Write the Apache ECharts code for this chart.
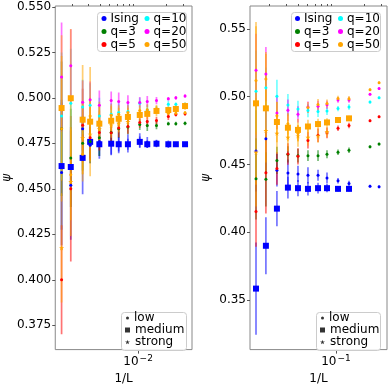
<!DOCTYPE html>
<html lang="en">
<head>
<meta charset="UTF-8">
<title>psi vs 1/L</title>
<style>
  html, body { margin: 0; padding: 0; background: #fff; }
  #chart { width: 390px; height: 390px; }
</style>
</head>
<body>
<div id="chart"></div>
<script src="https://cdn.jsdelivr.net/npm/echarts@6/dist/echarts.min.js"></script>
<script>
// ---- left panel: sizes L, plotted against 1/L ----
var sizesLeft = [640, 512, 384, 320, 256, 192, 160, 128, 96, 80, 64, 48, 40, 32];
var xLeft = sizesLeft.map(function (l) { return 1 / l; });

var isingLowL = [0.459, 0.452, 0.483, 0.474, 0.476, 0.4755, 0.4755, 0.475, 0.4765, 0.4755, 0.475, 0.4745, 0.4745, 0.4745];
var isingLowErrL = [0.04, 0.03, 0.012, 0.01, 0.008, 0.007, 0.006, 0.005, 0.004, 0.003, 0.002, 0.002, 0.001, 0.001];
var isingMedL = [0.4625, 0.462, 0.467, 0.4758, 0.4745, 0.4748, 0.4745, 0.4745, 0.4758, 0.4745, 0.4748, 0.4745, 0.4745, 0.4745];
var isingMedErrL = [0.035, 0.022, 0.02, 0.009, 0.008, 0.006, 0.004, 0.003, 0.003, 0.002, 0.002, 0.001, 0.001, 0.001];
var q3LowL = [0.483, 0.467, 0.475, 0.476, 0.478, 0.481, 0.483, 0.484, 0.4853, 0.4848, 0.4848, 0.4858, 0.4858, 0.486];
var q3LowErrL = [0.037, 0.027, 0.015, 0.012, 0.01, 0.007, 0.005, 0.004, 0.003, 0.003, 0.002, 0.001, 0.001, 0.001];
var q5LowL = [0.400, 0.450, 0.485, 0.478, 0.481, 0.4808, 0.4834, 0.4843, 0.4865, 0.487, 0.4875, 0.4898, 0.4908, 0.4912];
var q5LowErrL = [0.03, 0.04, 0.02, 0.012, 0.01, 0.007, 0.005, 0.004, 0.003, 0.003, 0.002, 0.002, 0.001, 0.001];
var q10LowL = [0.49, 0.497, 0.495, 0.496, 0.49, 0.491, 0.492, 0.4925, 0.497, 0.4932, 0.4935, 0.4965, 0.4965, 0.4964];
var q10LowErrL = [0.035, 0.03, 0.015, 0.012, 0.01, 0.006, 0.005, 0.004, 0.003, 0.003, 0.002, 0.002, 0.001, 0.001];
var q20LowL = [0.5114, 0.5177, 0.4976, 0.499, 0.496, 0.4985, 0.498, 0.4975, 0.4975, 0.498, 0.4985, 0.4995, 0.5, 0.501];
var q20LowErrL = [0.03, 0.02, 0.012, 0.01, 0.008, 0.005, 0.005, 0.004, 0.003, 0.003, 0.002, 0.001, 0.001, 0.001];
var q50LowL = [0.483, 0.4577, 0.469, 0.49, 0.487, 0.4905, 0.491, 0.492, 0.493, 0.4935, 0.494, 0.4915, 0.4915, 0.4918];
var q50LowErrL = [0.04, 0.025, 0.015, 0.01, 0.008, 0.006, 0.005, 0.004, 0.003, 0.003, 0.002, 0.002, 0.001, 0.001];
var q50MedL = [0.4944, 0.4998, 0.488, 0.4869, 0.4858, 0.4874, 0.4885, 0.4895, 0.4906, 0.4912, 0.4928, 0.4933, 0.4939, 0.4955];
var q50MedErrL = [0.04, 0.038, 0.03, 0.03, 0.012, 0.008, 0.006, 0.005, 0.004, 0.003, 0.003, 0.002, 0.002, 0.002];
var q50StrongL = [0.4175, 0.454, 0.478, 0.48, 0.483, 0.485, 0.486, 0.487];
var q50StrongErrL = [0.03, 0.03, 0.02, 0.015, 0.01, 0.007, 0.005, 0.004];

// ---- right panel ----
var xRight = [0.0144, 0.0183, 0.0239, 0.0312, 0.0398, 0.0507, 0.0647, 0.0804, 0.105, 0.137, 0.228, 0.284];

var isingLowR = [0.460, 0.469, 0.4457, 0.4437, 0.443, 0.442, 0.442, 0.440, 0.438, 0.436, 0.434, 0.4335];
var isingLowErrR = [0.03, 0.025, 0.012, 0.01, 0.006, 0.006, 0.004, 0.004, 0.002, 0.002, 0.001, 0.001];
var isingMedR = [0.3584, 0.390, 0.4174, 0.4329, 0.4325, 0.432, 0.4325, 0.4325, 0.432, 0.432];
var isingMedErrR = [0.034, 0.021, 0.013, 0.008, 0.006, 0.005, 0.004, 0.003, 0.002, 0.002];
var q3LowR = [0.4394, 0.439, 0.453, 0.4575, 0.4565, 0.4565, 0.4565, 0.4575, 0.459, 0.4605, 0.463, 0.465];
var q3LowErrR = [0.03, 0.02, 0.01, 0.006, 0.005, 0.004, 0.004, 0.003, 0.002, 0.002, 0.001, 0.001];
var q5LowR = [0.4152, 0.4438, 0.447, 0.4577, 0.456, 0.4677, 0.4716, 0.4733, 0.4767, 0.4787, 0.4823, 0.4852];
var q5LowErrR = [0.026, 0.03, 0.012, 0.008, 0.006, 0.006, 0.005, 0.004, 0.002, 0.002, 0.001, 0.001];
var q10LowR = [0.504, 0.5065, 0.5004, 0.4939, 0.491, 0.4898, 0.489, 0.4895, 0.4912, 0.4924, 0.496, 0.4992];
var q10LowErrR = [0.03, 0.015, 0.012, 0.008, 0.006, 0.005, 0.004, 0.003, 0.002, 0.002, 0.001, 0.001];
var q20LowR = [0.5195, 0.5167, 0.488, 0.49, 0.487, 0.4924, 0.493, 0.494, 0.4976, 0.4975, 0.5018, 0.506];
var q20LowErrR = [0.027, 0.02, 0.012, 0.008, 0.006, 0.004, 0.004, 0.003, 0.002, 0.002, 0.001, 0.001];
var q50LowR = [0.512, 0.513, 0.486, 0.48, 0.473, 0.492, 0.4943, 0.495, 0.4987, 0.4985, 0.5052, 0.5103];
var q50LowErrR = [0.04, 0.02, 0.01, 0.008, 0.006, 0.004, 0.004, 0.003, 0.002, 0.002, 0.001, 0.001];
var q50MedR = [0.4951, 0.4914, 0.4813, 0.4771, 0.4755, 0.478, 0.4798, 0.481, 0.4828, 0.484];
var q50MedErrR = [0.06, 0.04, 0.015, 0.01, 0.008, 0.005, 0.004, 0.003, 0.002, 0.002];
var q50StrongR = [0.459, 0.475, 0.473, 0.470, 0.471, 0.470, 0.471, 0.474];
var q50StrongErrR = [0.04, 0.03, 0.015, 0.01, 0.008, 0.006, 0.005, 0.004];

// ---- ticks ----
var yTicksLeft = [0.375, 0.400, 0.425, 0.450, 0.475, 0.500, 0.525, 0.550];
var yTicksRight = [0.35, 0.40, 0.45, 0.50, 0.55];
var xMajorLeft = [0.01];
var xMinorLeft = [0.002, 0.003, 0.004, 0.005, 0.006, 0.007, 0.008, 0.009, 0.02, 0.03];
var xMajorRight = [0.1];
var xMinorRight = [0.02, 0.03, 0.04, 0.05, 0.06, 0.07, 0.08, 0.09, 0.2, 0.3];

var qNames = ['Ising', 'q=3', 'q=5', 'q=10', 'q=20', 'q=50'];
var qColors = ['#0000ff', '#008000', '#ff0000', '#00ffff', '#ff00ff', '#ffa500'];

var starPath = 'path://M50,0 L61,35 L98,35 L68,57 L79,91 L50,70 L21,91 L32,57 L2,35 L39,35 Z';
var FONT = 'DejaVu Sans';
var series = [];

function errRender(params, api) {
    var x = api.value(0), y = api.value(1), e = api.value(2);
    var p1 = api.coord([x, y - e]);
    var p2 = api.coord([x, y + e]);
    return {
        type: 'line',
        shape: { x1: p1[0], y1: p1[1], x2: p2[0], y2: p2[1] },
        style: { stroke: api.visual('color'), lineWidth: 1.7, opacity: 0.55 }
    };
}

function addSet(panel, qi, kind, xs, ys, es) {
    var color = qColors[qi];
    var sym = kind === 'low' ? 'circle' : (kind === 'medium' ? 'rect' : starPath);
    var size = kind === 'low' ? 3 : (kind === 'medium' ? 6 : 5);
    var pts = [], bars = [];
    for (var i = 0; i < ys.length; i++) {
        pts.push([xs[i], ys[i]]);
        bars.push([xs[i], ys[i], es[i]]);
    }
    series.push({
        type: 'custom', name: qNames[qi], xAxisIndex: panel, yAxisIndex: panel,
        renderItem: errRender, data: bars, encode: { x: 0, y: 1 },
        itemStyle: { color: color }, clip: true, silent: true, z: 1
    });
    series.push({
        type: 'scatter', name: qNames[qi], xAxisIndex: panel, yAxisIndex: panel,
        symbol: sym, symbolSize: size, itemStyle: { color: color, opacity: 1 },
        data: pts, silent: true, z: 2
    });
}

// left panel
addSet(0, 0, 'low', xLeft, isingLowL, isingLowErrL);
addSet(0, 0, 'medium', xLeft, isingMedL, isingMedErrL);
addSet(0, 1, 'low', xLeft, q3LowL, q3LowErrL);
addSet(0, 2, 'low', xLeft, q5LowL, q5LowErrL);
addSet(0, 3, 'low', xLeft, q10LowL, q10LowErrL);
addSet(0, 4, 'low', xLeft, q20LowL, q20LowErrL);
addSet(0, 5, 'low', xLeft, q50LowL, q50LowErrL);
addSet(0, 5, 'strong', xLeft, q50StrongL, q50StrongErrL);
addSet(0, 5, 'medium', xLeft, q50MedL, q50MedErrL);
// right panel
addSet(1, 0, 'low', xRight, isingLowR, isingLowErrR);
addSet(1, 0, 'medium', xRight, isingMedR, isingMedErrR);
addSet(1, 1, 'low', xRight, q3LowR, q3LowErrR);
addSet(1, 2, 'low', xRight, q5LowR, q5LowErrR);
addSet(1, 3, 'low', xRight, q10LowR, q10LowErrR);
addSet(1, 4, 'low', xRight, q20LowR, q20LowErrR);
addSet(1, 5, 'low', xRight, q50LowR, q50LowErrR);
addSet(1, 5, 'strong', xRight, q50StrongR, q50StrongErrR);
addSet(1, 5, 'medium', xRight, q50MedR, q50MedErrR);

// black entries for the disorder legend
series.push({ type: 'scatter', name: 'low', symbol: 'circle', itemStyle: { color: '#000' }, data: [] });
series.push({ type: 'scatter', name: 'medium', symbol: 'rect', itemStyle: { color: '#000' }, data: [] });
series.push({ type: 'scatter', name: 'strong', symbol: starPath, itemStyle: { color: '#000' }, data: [] });

function xMain(grid, min, max, major, label) {
    return {
        type: 'log', logBase: 10, gridIndex: grid, min: min, max: max,
        name: '1/L', nameLocation: 'middle', nameGap: 23,
        nameTextStyle: { fontFamily: FONT, fontSize: 12, color: '#000' },
        axisLine: { show: false },
        axisTick: { customValues: major, length: 4, lineStyle: { color: '#555' } },
        axisLabel: {
            customValues: major, margin: 5, fontFamily: FONT, fontSize: 12, color: '#000',
            formatter: function () { return '10{s|' + label + '}'; },
            rich: { s: { fontSize: 9, fontFamily: FONT, color: '#000', verticalAlign: 'top', padding: [0, 0, 6, 1] } }
        },
        splitLine: { show: false }
    };
}
function xMinor(grid, min, max, minor) {
    return {
        type: 'log', logBase: 10, gridIndex: grid, min: min, max: max,
        axisLine: { show: false },
        axisTick: { customValues: minor, length: 2, lineStyle: { color: '#555' } },
        axisLabel: { show: false },
        splitLine: { show: false }
    };
}
function yAxisOf(grid, min, max, ticks, digits) {
    return {
        type: 'value', gridIndex: grid, min: min, max: max,
        name: 'ψ', nameLocation: 'middle', nameGap: 38,
        nameTextStyle: { fontFamily: FONT, fontSize: 12, fontStyle: 'italic', color: '#000' },
        axisLine: { show: false },
        axisTick: { customValues: ticks, length: 3, lineStyle: { color: '#555' } },
        axisLabel: {
            customValues: ticks, margin: 4, fontFamily: FONT, fontSize: 12, color: '#000',
            formatter: function (v) { return v.toFixed(digits); }
        },
        splitLine: { show: false }
    };
}

function legendCol(left, top, names, size, lh) {
    return {
        orient: 'vertical', left: left, top: top, padding: 0, itemGap: 0,
        itemWidth: size, itemHeight: size, icon: 'circle', selectedMode: false, z: 10,
        data: names,
        textStyle: { fontFamily: FONT, fontSize: 12, color: '#000', lineHeight: lh, padding: [0, 0, 0, -1] }
    };
}
function disorderLegend(left, top) {
    return [
        {
            orient: 'vertical', left: left + 1, top: top, padding: 0, itemGap: 0,
            itemWidth: 3, itemHeight: 3, selectedMode: false, z: 10,
            data: [{ name: 'low', icon: 'circle' }],
            textStyle: { fontFamily: FONT, fontSize: 12, color: '#000', lineHeight: 12 }
        },
        {
            orient: 'vertical', left: left, top: top + 12, padding: 0, itemGap: 0,
            itemWidth: 5, itemHeight: 5, selectedMode: false, z: 10,
            data: [{ name: 'medium', icon: 'rect' }, { name: 'strong', icon: starPath }],
            textStyle: { fontFamily: FONT, fontSize: 12, color: '#000', lineHeight: 12 }
        }
    ];
}
function box(x, y, w, h) {
    return {
        type: 'rect', left: x, top: y, z: 5,
        shape: { width: w, height: h, r: 3 },
        style: { fill: 'rgba(255,255,255,0.85)', stroke: '#cccccc', lineWidth: 1 }
    };
}

var chart = echarts.init(document.getElementById('chart'), null, { renderer: 'canvas' });

var option = {
    animation: false,
    backgroundColor: '#fff',
    grid: [
        { left: 55, top: 6, width: 137, height: 349, show: true, borderColor: '#888', borderWidth: 1, backgroundColor: 'transparent' },
        { left: 250, top: 6, width: 137, height: 349, show: true, borderColor: '#888', borderWidth: 1, backgroundColor: 'transparent' }
    ],
    xAxis: [
        xMain(0, 0.00134, 0.037, xMajorLeft, '−2'),
        xMain(1, 0.01245, 0.344, xMajorRight, '−1'),
        xMinor(0, 0.00134, 0.037, xMinorLeft),
        xMinor(1, 0.01245, 0.344, xMinorRight)
    ],
    yAxis: [
        yAxisOf(0, 0.3616, 0.5505, yTicksLeft, 3),
        yAxisOf(1, 0.3134, 0.5669, yTicksRight, 2)
    ],
    legend: [
        legendCol(101.5, 12, qNames.slice(0, 3), 5, 13),
        legendCol(144.5, 12, qNames.slice(3), 5, 13),
        legendCol(295, 12, qNames.slice(0, 3), 5, 13),
        legendCol(338, 12, qNames.slice(3), 5, 13)
    ].concat(disorderLegend(125, 312)).concat(disorderLegend(320, 312)),
    graphic: {
        elements: [
            box(97, 12, 89, 39),
            box(121, 312, 65, 38),
            box(291, 12, 89, 39),
            box(316, 312, 64, 38)
        ]
    },
    series: series
};

chart.setOption(option);
</script>
</body>
</html>
